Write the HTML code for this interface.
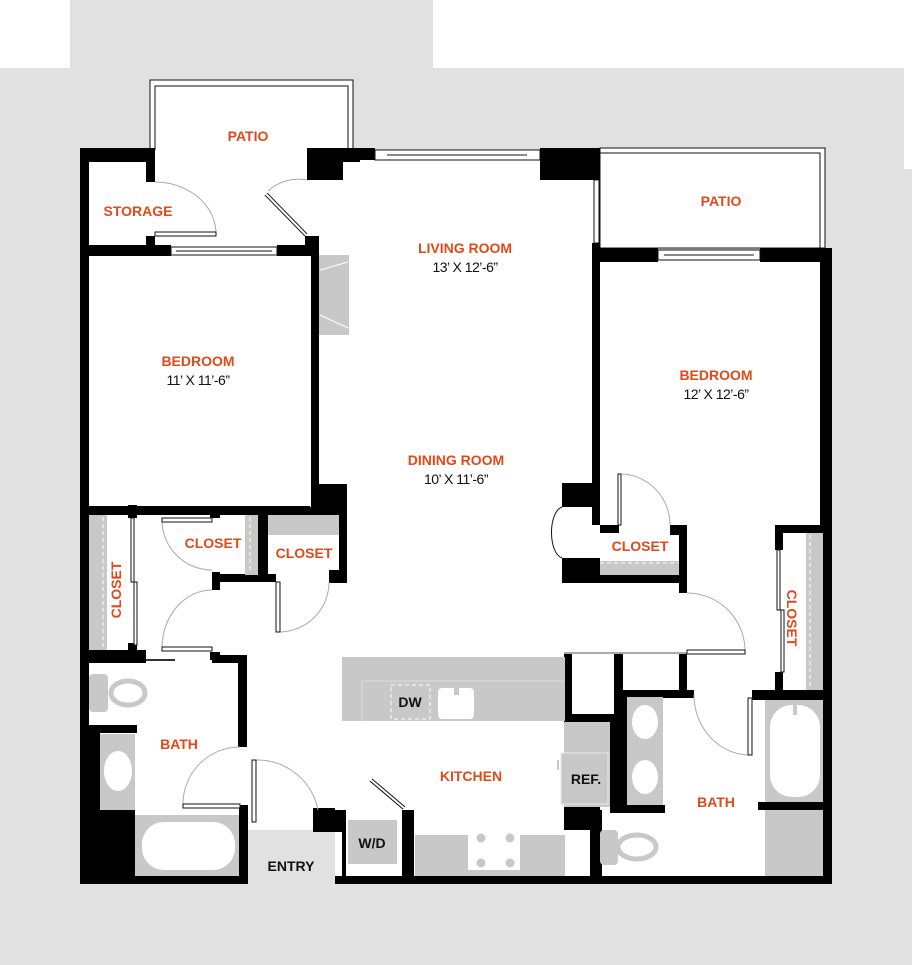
<!DOCTYPE html>
<html><head><meta charset="utf-8"><style>
html,body{margin:0;padding:0;background:#fff}
svg{display:block}
.o{fill:#e0491a;font-family:"Liberation Sans",sans-serif;font-weight:bold;font-size:14px;text-anchor:middle}
.k{fill:#111;font-family:"Liberation Sans",sans-serif;font-weight:bold;font-size:14px;text-anchor:middle}
.d{fill:#111;font-family:"Liberation Sans",sans-serif;font-size:14px;text-anchor:middle;letter-spacing:-0.5px}
.arc{fill:none;stroke:#aaa;stroke-width:1}
.lf{fill:#fff;stroke:#111;stroke-width:1}
</style></head><body>
<svg width="912" height="965" viewBox="0 0 912 965" xmlns="http://www.w3.org/2000/svg">
<rect x="0" y="68" width="912" height="897" fill="#e1e1e1"/>
<rect x="70" y="0" width="363" height="68" fill="#e1e1e1"/>
<rect x="904" y="68" width="8" height="101" fill="#fff"/>
<!-- patios -->
<rect x="150" y="80" width="203" height="80" fill="#fff"/>
<polyline points="150,160 150,80 353,80 353,150" fill="none" stroke="#111" stroke-width="1"/>
<polyline points="155,150 155,86 348,86 348,150" fill="none" stroke="#111" stroke-width="1"/>
<rect x="600" y="148" width="225" height="100" fill="#fff" stroke="#111" stroke-width="1"/>
<polyline points="600,153 820,153 820,248" fill="none" stroke="#111" stroke-width="1"/>
<rect x="89" y="160" width="505" height="720" fill="#fff"/>
<rect x="307" y="160" width="290" height="100" fill="#fff"/>
<rect x="592" y="260" width="230" height="620" fill="#fff"/>
<rect x="248" y="830" width="87" height="54" fill="#e1e1e1"/>

<g fill="#000">
<rect x="80" y="148" width="9" height="736"/>
<rect x="80" y="148" width="75" height="14"/>
<rect x="146" y="148" width="9" height="34"/>
<rect x="146" y="236" width="9" height="10"/>
<rect x="80" y="245" width="91" height="11"/>
<rect x="277" y="245" width="30" height="11"/>
<rect x="305" y="236" width="11" height="20"/>
<rect x="311" y="236" width="8" height="271"/>
<rect x="307" y="148" width="53" height="14"/>
<rect x="307" y="148" width="36" height="32"/>
<rect x="360" y="148" width="15" height="12"/>
<rect x="540" y="148" width="60" height="32"/>
<rect x="569" y="148" width="31" height="32"/>
<rect x="592" y="243" width="8" height="282"/>
<rect x="592" y="248" width="66" height="14"/>
<rect x="760" y="248" width="72" height="14"/>
<rect x="820" y="248" width="12" height="636"/>
<rect x="80" y="876" width="168" height="8"/>
<rect x="335" y="876" width="497" height="8"/>
<rect x="80" y="506" width="230" height="9"/>
<rect x="311" y="484" width="36" height="23"/>
<rect x="339" y="484" width="8" height="99"/>
<rect x="329" y="570" width="18" height="13"/>
<rect x="128" y="505" width="9" height="13"/>
<rect x="128" y="643" width="9" height="12"/>
<rect x="80" y="650" width="66" height="13"/>
<rect x="210" y="507" width="53" height="8"/>
<rect x="210" y="507" width="10" height="11"/>
<rect x="258" y="507" width="10" height="71"/>
<rect x="212" y="574" width="64" height="8"/>
<rect x="212" y="572" width="8" height="18"/>
<rect x="258" y="507" width="89" height="8"/>
<rect x="210" y="652" width="10" height="8"/>
<rect x="212" y="655" width="34" height="8"/>
<rect x="238" y="655" width="9" height="92"/>
<rect x="89" y="725" width="48" height="8"/>
<rect x="89" y="733" width="11" height="77"/>
<rect x="80" y="810" width="55" height="74"/>
<rect x="239" y="805" width="9" height="79"/>
<rect x="313" y="808" width="22" height="24"/>
<rect x="334" y="810" width="12" height="22"/>
<rect x="342" y="820" width="4" height="60"/>
<rect x="402" y="810" width="12" height="70"/>
<rect x="562" y="483" width="30" height="24"/>
<rect x="562" y="558" width="38" height="25"/>
<rect x="600" y="525" width="19" height="8"/>
<rect x="670" y="525" width="17" height="10"/>
<rect x="679" y="525" width="8" height="68"/>
<rect x="562" y="575" width="125" height="8"/>
<rect x="775" y="525" width="57" height="8"/>
<rect x="775" y="525" width="8" height="25"/>
<rect x="775" y="672" width="8" height="20"/>
<rect x="752" y="690" width="80" height="10"/>
<rect x="758" y="802" width="74" height="8"/>
<rect x="564" y="654" width="8" height="66"/>
<rect x="564" y="714" width="50" height="8"/>
<rect x="614" y="654" width="9" height="155"/>
<rect x="679" y="654" width="8" height="36"/>
<rect x="614" y="690" width="80" height="8"/>
<rect x="610" y="697" width="17" height="112"/>
<rect x="564" y="807" width="36" height="23"/>
<rect x="610" y="805" width="55" height="8"/>
<rect x="590" y="810" width="12" height="74"/>
</g>
<rect x="572" y="654" width="42" height="60" fill="#fff"/>
<rect x="564" y="652" width="123" height="2" fill="#aaa"/>

<g fill="#fff" stroke="#111" stroke-width="1">
<rect x="171" y="247" width="106" height="8"/>
<rect x="375" y="150" width="165" height="10"/>
<rect x="594" y="180" width="5" height="63"/>
<rect x="658" y="250" width="102" height="10"/>
</g>
<line x1="176" y1="251" x2="272" y2="251" stroke="#111"/>
<line x1="387" y1="155" x2="527" y2="155" stroke="#111"/>
<line x1="664" y1="255" x2="754" y2="255" stroke="#111"/>

<g fill="#c8c8c8">
<rect x="319" y="255" width="30" height="80"/>
<rect x="89" y="515" width="18" height="135"/>
<rect x="245" y="515" width="13" height="60"/>
<rect x="268" y="515" width="71" height="20"/>
<rect x="600" y="561" width="79" height="14"/>
<rect x="806" y="533" width="17" height="157"/>
<rect x="89" y="674" width="19" height="38" rx="4"/>
<rect x="100" y="734" width="35" height="76"/>
<rect x="135" y="815" width="104" height="61"/>
<rect x="342" y="657" width="223" height="64"/>
<rect x="415" y="835" width="150" height="41"/>
<rect x="348" y="820" width="49" height="44"/>
<rect x="564" y="722" width="46" height="85"/>
<rect x="627" y="697" width="36" height="108"/>
<rect x="765" y="700" width="58" height="102"/>
<rect x="765" y="810" width="58" height="66"/>
<rect x="600" y="830" width="18" height="35" rx="4"/>
</g>
<line x1="320" y1="270" x2="348" y2="262" stroke="#fff"/>
<line x1="320" y1="315" x2="348" y2="328" stroke="#fff"/>
<line x1="362" y1="681" x2="565" y2="681" stroke="#ddd"/>
<line x1="362" y1="681" x2="362" y2="721" stroke="#ddd"/>
<g stroke="#fff" stroke-dasharray="4,3" fill="none">
<line x1="103" y1="517" x2="103" y2="648"/>
<line x1="250" y1="517" x2="250" y2="573"/>
<line x1="600" y1="563" x2="679" y2="563"/>
<line x1="810" y1="535" x2="810" y2="688"/>
<rect x="391" y="685" width="39" height="34"/>
<line x1="570" y1="835" x2="570" y2="850"/>
</g>
<ellipse cx="128" cy="693" rx="17" ry="12" fill="none" stroke="#c8c8c8" stroke-width="5"/>
<ellipse cx="118" cy="771" rx="14" ry="20" fill="#fff"/>
<rect x="142" y="822" width="93" height="48" rx="22" fill="#fff"/>
<rect x="438" y="688" width="36" height="31" rx="4" fill="#fff"/>
<rect x="454" y="683" width="5" height="12" fill="#c8c8c8"/>
<rect x="468" y="827" width="52" height="43" fill="#fff"/>
<g fill="#c8c8c8"><circle cx="481" cy="838" r="4.5"/><circle cx="510" cy="838" r="4.5"/><circle cx="481" cy="863" r="4.5"/><circle cx="510" cy="863" r="4.5"/></g>
<rect x="561" y="753" width="47" height="51" fill="#c8c8c8" stroke="#e8e8e8"/>
<rect x="557" y="760" width="2" height="10" fill="#c8c8c8"/>
<ellipse cx="645" cy="722" rx="13" ry="17" fill="#fff"/>
<ellipse cx="645" cy="777" rx="13" ry="17" fill="#fff"/>
<rect x="770" y="705" width="50" height="92" rx="22" fill="#fff"/>
<rect x="793" y="705" width="4" height="10" fill="#c8c8c8"/>
<ellipse cx="637" cy="847" rx="19" ry="12" fill="none" stroke="#c8c8c8" stroke-width="5"/>

<path class="arc" d="M155 182 A 61 52 0 0 1 216 232"/>
<rect class="lf" x="155" y="232" width="61" height="4"/>
<path class="arc" d="M268 191 A 45 45 0 0 1 307 180"/>
<line x1="266" y1="194" x2="306" y2="235" stroke="#111" stroke-width="4"/>
<line x1="266" y1="194" x2="306" y2="235" stroke="#fff" stroke-width="2"/>
<path class="arc" d="M162 520 A 50 50 0 0 0 212 570"/>
<rect class="lf" x="162" y="518" width="50" height="4"/>
<rect class="lf" x="131" y="518" width="3" height="64"/>
<rect class="lf" x="134" y="582" width="3" height="63"/>
<path class="arc" d="M162 648 A 50 58 0 0 1 212 590"/>
<rect class="lf" x="162" y="647" width="50" height="4"/>
<line x1="146" y1="660" x2="175" y2="660" stroke="#333" stroke-width="2"/>
<path class="arc" d="M280 632 A 50 50 0 0 0 329 582"/>
<rect class="lf" x="276" y="582" width="4" height="50"/>
<path class="arc" d="M183 805 A 57 57 0 0 1 240 747"/>
<rect class="lf" x="183" y="804" width="57" height="4"/>
<path class="arc" d="M256 760 A 62 62 0 0 1 318 810"/>
<rect class="lf" x="252" y="760" width="4" height="62"/>
<line x1="371" y1="780" x2="404" y2="808" stroke="#111" stroke-width="4"/>
<line x1="371" y1="780" x2="404" y2="808" stroke="#fff" stroke-width="2"/>
<path class="arc" d="M620 474 A 50 51 0 0 1 670 525"/>
<rect class="lf" x="618" y="474" width="3" height="51"/>
<path class="arc" d="M687 593 A 58 58 0 0 1 745 651"/>
<rect class="lf" x="687" y="650" width="58" height="4"/>
<path class="arc" d="M694 695 A 56 60 0 0 0 750 755"/>
<rect class="lf" x="748" y="698" width="4" height="57"/>
<rect class="lf" x="777" y="550" width="3" height="60"/>
<rect class="lf" x="781" y="610" width="3" height="62"/>
<path d="M562 507 C548 512 548 553 562 558" fill="#fff" stroke="#111"/>

<text class="o" x="248" y="141">PATIO</text>
<text class="o" x="721" y="206">PATIO</text>
<text class="o" x="138" y="216">STORAGE</text>
<text class="o" x="465" y="253">LIVING ROOM</text>
<text class="d" x="465" y="272">13’ X 12’-6”</text>
<text class="o" x="198" y="366">BEDROOM</text>
<text class="d" x="198" y="385">11’ X 11’-6”</text>
<text class="o" x="716" y="380">BEDROOM</text>
<text class="d" x="716" y="399">12’ X 12’-6”</text>
<text class="o" x="456" y="465">DINING ROOM</text>
<text class="d" x="456" y="484">10’ X 11’-6”</text>
<text class="o" x="213" y="548" font-size="13">CLOSET</text>
<text class="o" x="304" y="558" font-size="13">CLOSET</text>
<text class="o" x="640" y="551" font-size="13">CLOSET</text>
<text class="o" font-size="13" transform="translate(121,590) rotate(-90)">CLOSET</text>
<text class="o" font-size="13" transform="translate(787,618) rotate(90)">CLOSET</text>
<text class="o" x="179" y="749">BATH</text>
<text class="o" x="716" y="807">BATH</text>
<text class="o" x="471" y="781">KITCHEN</text>
<text class="k" x="410" y="707" font-size="13">DW</text>
<text class="k" x="372" y="848" font-size="13">W/D</text>
<text class="k" x="586" y="784" font-size="13">REF.</text>
<text class="k" x="291" y="871" font-size="13">ENTRY</text>
</svg>
</body></html>
